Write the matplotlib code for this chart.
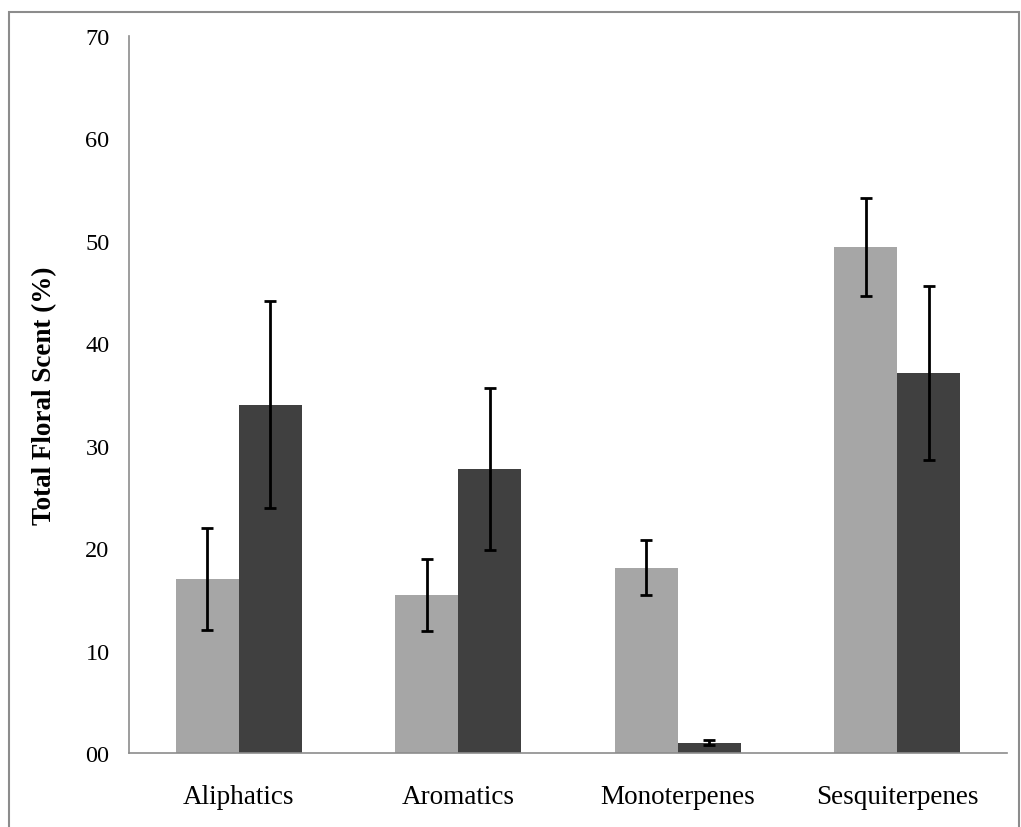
import matplotlib
matplotlib.use('Agg')
import matplotlib.pyplot as plt
import matplotlib.patches as patches
import numpy as np

# データ
categories = ['Aliphatics', 'Aromatics', 'Monoterpenes', 'Sesquiterpenes']
light_vals = [17.0, 15.4, 18.1, 49.4]
light_err = [5.0, 3.5, 2.7, 4.8]
dark_vals = [34.0, 27.7, 1.0, 37.1]
dark_err = [10.1, 7.9, 0.25, 8.5]
ytick_labels = ['00', '10', '20', '30', '40', '50', '60', '70']

plt.rcParams['font.family'] = ['Liberation Serif', 'DejaVu Serif']

fig = plt.figure(figsize=(10.21, 8.28), dpi=100)
ax = fig.add_axes([0.1263, 0.0894, 0.86, 0.866])

x = np.arange(len(categories))
w = 0.287
ekw = dict(elinewidth=2.0, capthick=2.0, capsize=4.5, ecolor='black')
ax.bar(x - w / 2, light_vals, w, color='#a6a6a6', yerr=light_err, error_kw=ekw)
ax.bar(x + w / 2, dark_vals, w, color='#404040', yerr=dark_err, error_kw=ekw)

ax.set_xlim(-0.5, 3.5)
ax.set_ylim(0, 70)
ax.set_yticks(np.arange(0, 80, 10))
ax.set_yticklabels(ytick_labels)
ax.set_xticks(x)
ax.set_xticklabels(categories)
ax.tick_params(axis='y', length=0, pad=14, labelsize=17.5)
ax.tick_params(axis='x', length=0, pad=22, labelsize=19.5)
ax.set_ylabel('Total Floral Scent (%)', fontsize=19.5, fontweight='bold', labelpad=20)

for s in ['top', 'right']:
    ax.spines[s].set_visible(False)
for s in ['left', 'bottom']:
    ax.spines[s].set_color('#8c8c8c')
    ax.spines[s].set_linewidth(1.2)

# 外枠
frame = patches.Rectangle((9 / 1021, -0.05), 1010 / 1021, 1.05 - 13 / 828,
                          transform=fig.transFigure, fill=False,
                          edgecolor='#8c8c8c', linewidth=1.5, clip_on=False)
fig.patches.append(frame)

fig.savefig('out.png', dpi=100)
